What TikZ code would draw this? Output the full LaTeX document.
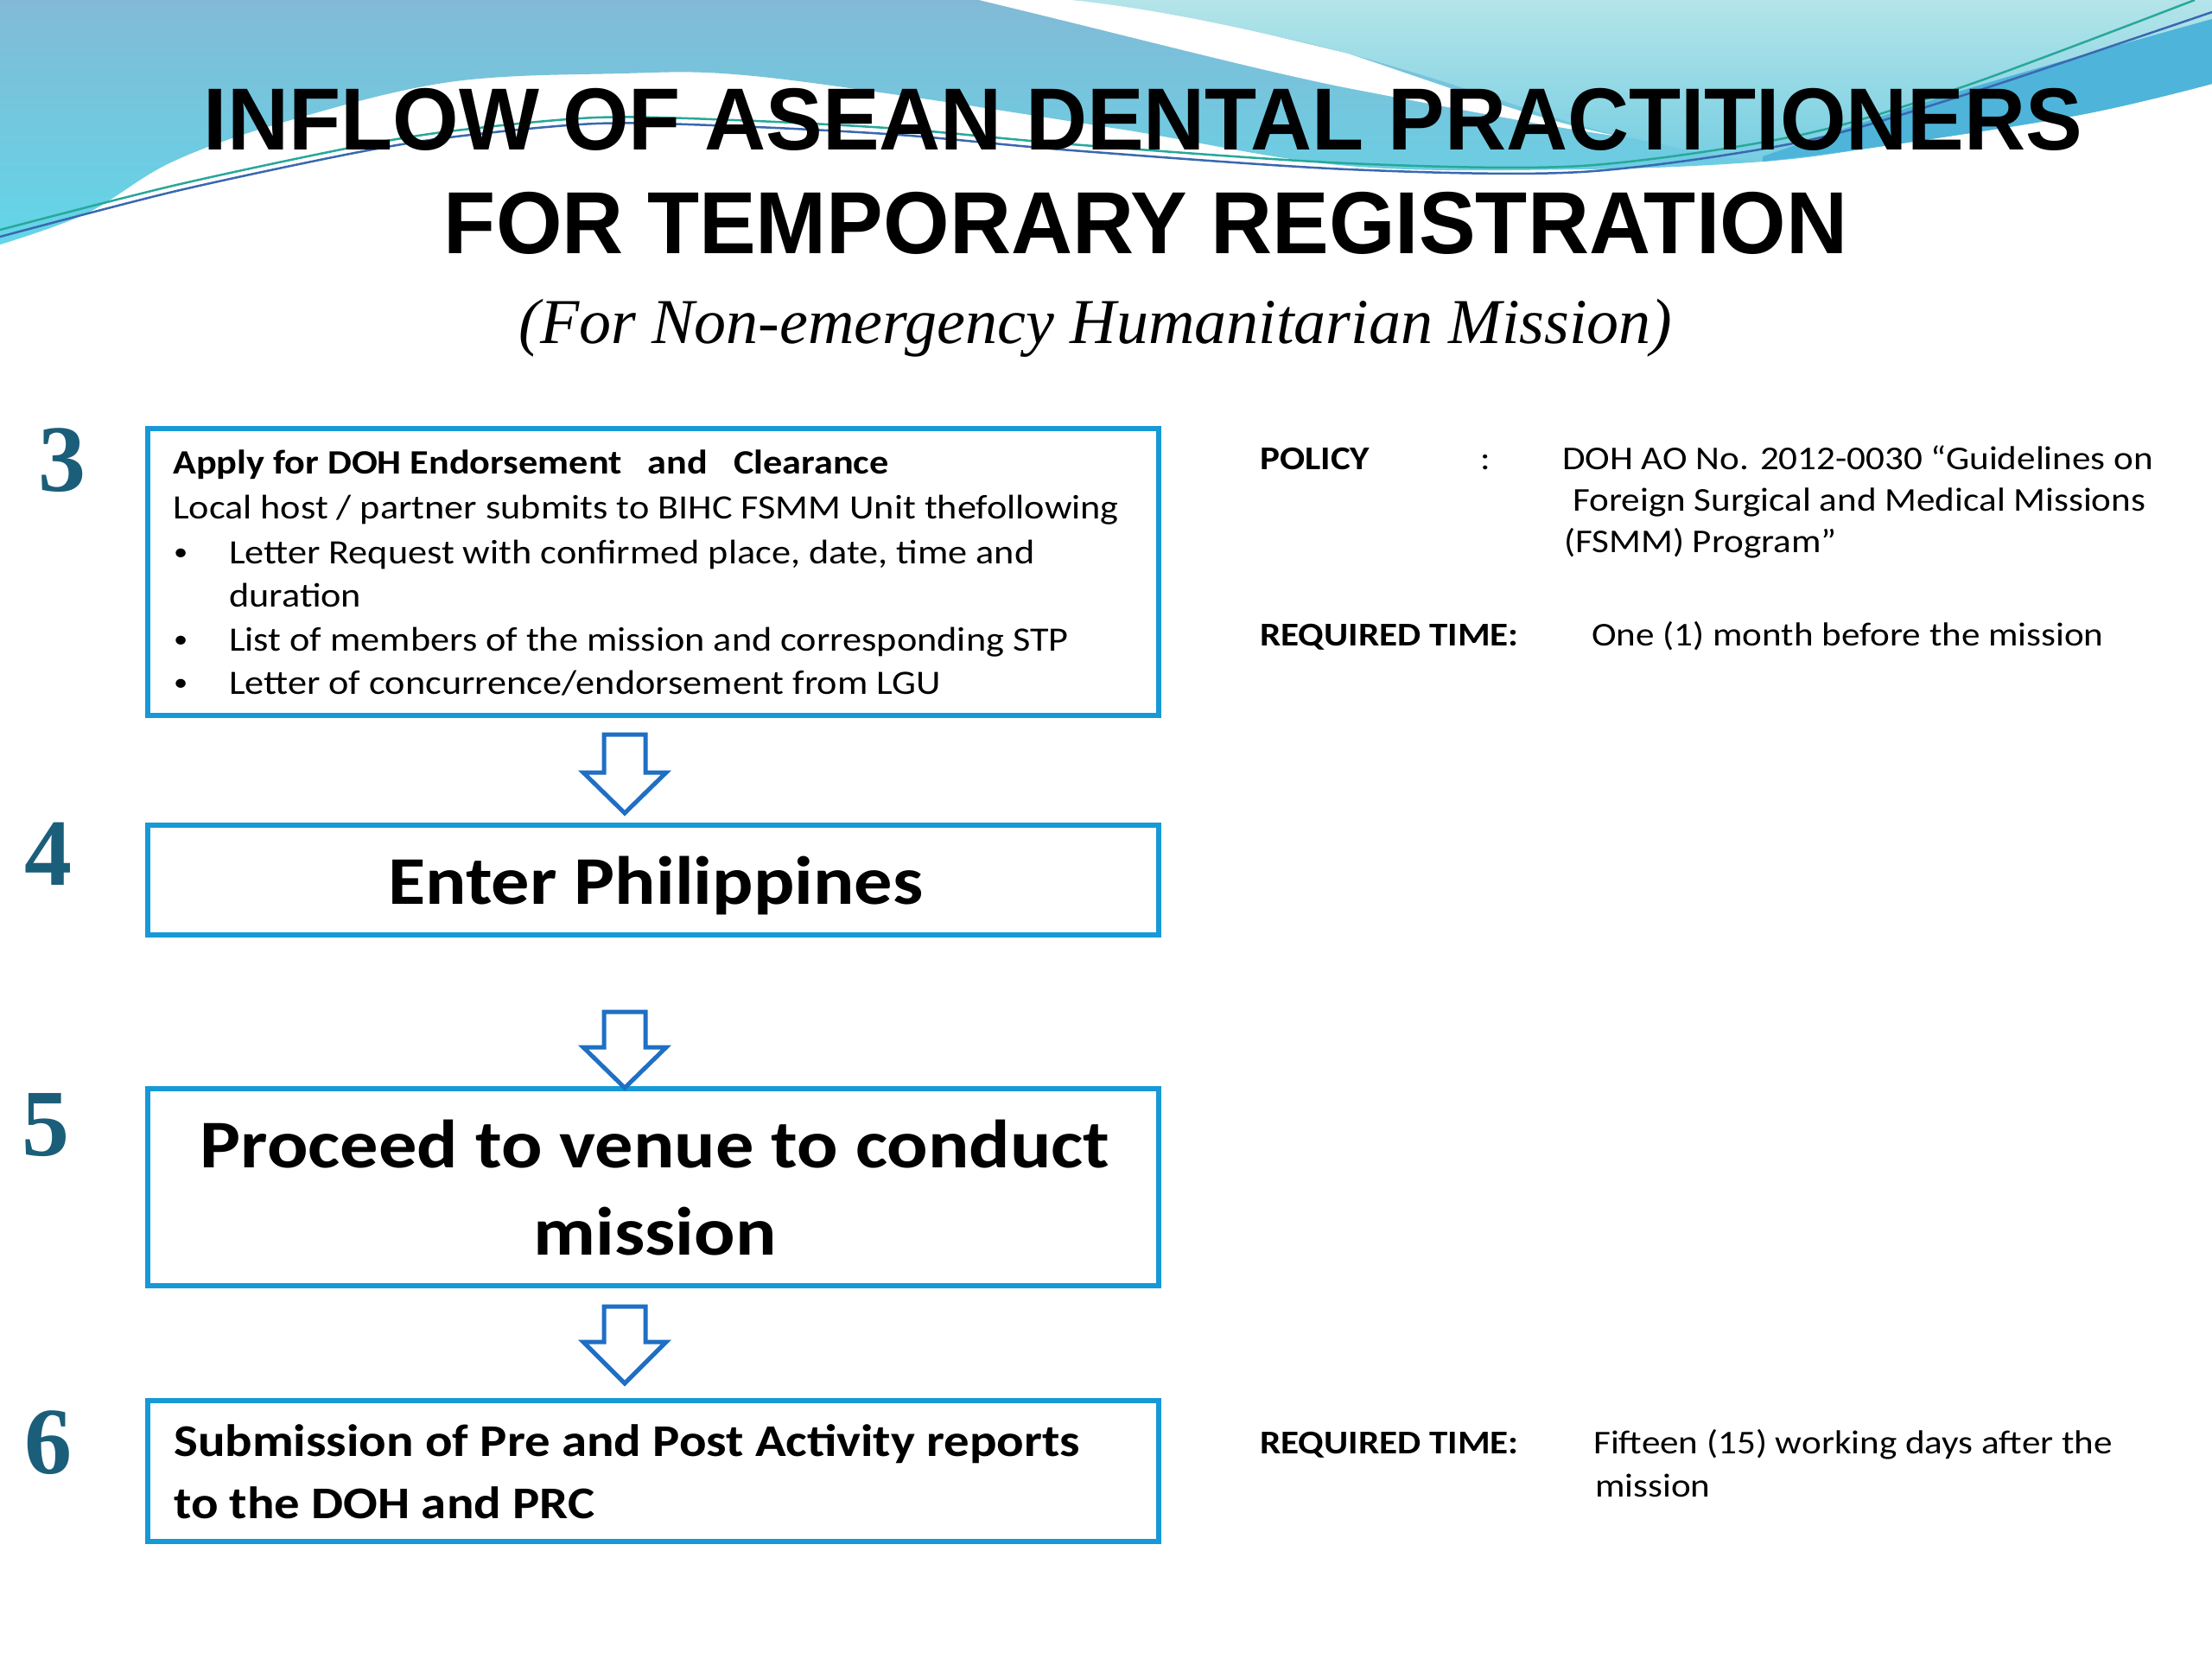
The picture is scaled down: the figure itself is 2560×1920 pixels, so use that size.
\documentclass[tikz,border=0pt]{standalone}
\usepackage{fontspec}
\setmainfont{Carlito}
\newfontfamily\cand{Carlito}[FakeStretch=1.12]
\newfontfamily\titlefont{Liberation Sans}[FakeStretch=0.965]
\newfontfamily\subfont{Liberation Serif}
\newfontfamily\numfont{Liberation Serif}
\definecolor{boxblue}{RGB}{22,153,214}
\definecolor{arrblue}{RGB}{31,111,196}
\definecolor{numcol}{RGB}{27,94,122}
\definecolor{bgtop}{RGB}{130,186,214}
\definecolor{bgcyan}{RGB}{98,214,232}
\definecolor{aquatop}{RGB}{180,228,233}
\definecolor{aquabot}{RGB}{118,206,226}
\definecolor{bandblue}{RGB}{78,180,218}
\definecolor{lineteal}{RGB}{40,168,154}
\definecolor{lineblue}{RGB}{58,104,176}
\newcommand\blockdown[4]{%
  \draw[barrow] (#1-24,#2) -- (#1+24,#2) -- (#1+24,#3) -- (#1+48,#3) -- (#1,#4) -- (#1-48,#3) -- (#1-24,#3) -- cycle;}
\begin{document}
\begin{tikzpicture}[x=1pt,y=-1pt,
  stepbox/.style={draw=boxblue, line width=6.5pt, fill=white, rectangle, inner sep=0pt},
  barrow/.style={draw=arrblue, line width=5pt, fill=white, line join=miter},
  numlab/.style={font=\numfont\bfseries\fontsize{110}{110}\selectfont, text=numcol, inner sep=0pt, anchor=center},
  body/.style={font=\cand\fontsize{39.5}{51}\selectfont, anchor=base west, inner sep=0pt},
  bul/.style={font=\cand\fontsize{29}{51}\selectfont, anchor=base west, inner sep=0pt},
  bodyb/.style={font=\cand\bfseries\fontsize{39.5}{51}\selectfont, anchor=base west, inner sep=0pt},
  side/.style={font=\cand\fontsize{38.5}{48}\selectfont, anchor=base west, inner sep=0pt},
  sideb/.style={font=\cand\bfseries\fontsize{38.5}{48}\selectfont, anchor=base west, inner sep=0pt},
  bigb/.style={font=\cand\bfseries\fontsize{79}{100}\selectfont, anchor=base, inner sep=0pt},
  midb/.style={font=\cand\bfseries\fontsize{52.5}{72}\selectfont, anchor=base west, inner sep=0pt},
  titl/.style={font=\titlefont\bfseries\fontsize{102}{120}\selectfont, anchor=base, inner sep=0pt},
  subt/.style={font=\subfont\itshape\fontsize{74}{90}\selectfont, anchor=base, inner sep=0pt},
  wline/.style={line width=2.5pt}
]
\useasboundingbox (0,0) rectangle (2560,1920);
\fill[white] (0,0) rectangle (2560,1920);
% background waves
\shade[top color=bgtop, bottom color=bgcyan] (0,0) -- (2560,0) -- plot[smooth, tension=0.6] coordinates {(2560,97) (2407,133) (2173,170) (2040,187) (1830,196) (1560,192) (1300,150) (1040,110) (850,86) (720,85) (520,95) (333,140) (200,187) (100,247) (0,283)} -- cycle;
\shade[top color=aquatop, bottom color=aquabot] (1240,0) .. controls (1400,25) and (1500,45) .. (1560,62) .. controls (1700,100) and (1800,140) .. (1870,156) .. controls (1950,172) and (2000,185) .. (2040,187) -- plot[smooth, tension=0.6] coordinates {(2040,187) (2173,170) (2407,133) (2560,97)} -- (2560,0) -- cycle;
\fill[white] (1133,0) .. controls (1300,40) and (1450,80) .. (1560,102) .. controls (1680,125) and (1800,148) .. (1875,158) .. controls (1780,140) and (1660,95) .. (1560,62) .. controls (1450,35) and (1350,12) .. (1240,0) -- cycle;
\fill[bandblue] plot[smooth, tension=0.6] coordinates {(2040,181) (2273,104) (2560,22)} -- (2560,97) -- plot[smooth, tension=0.6] coordinates {(2560,97) (2407,133) (2173,170) (2040,187)} -- cycle;
\draw[wline, lineteal] plot[smooth, tension=0.5] coordinates {(0,266) (200,215) (400,172) (520,152) (690,136) (850,139) (1040,149) (1240,167) (1560,189) (1830,192) (2080,157) (2273,100) (2540,0)};
\draw[wline, lineblue] plot[smooth, tension=0.5] coordinates {(0,274) (200,222) (400,179) (520,159) (690,143) (850,146) (1040,156) (1240,174) (1560,196) (1830,199) (2080,165) (2273,110) (2560,14)};
% title
\node[titl] (t1) at (1323,173) {INFLOW OF ASEAN DENTAL PRACTITIONERS};
\node[titl] (t2) at (1326,293) {FOR TEMPORARY REGISTRATION};
\node[subt] (t3) at (1268,397) {(For Non-emergency Humanitarian Mission)};
% boxes
\node[stepbox, minimum width=1170pt, minimum height=332pt] (b3) at (756,662) {};
\node[stepbox, minimum width=1170pt, minimum height=127pt] (b4) at (756,1018.5) {};
\node[stepbox, minimum width=1170pt, minimum height=228pt] (b5) at (756,1374) {};
\node[stepbox, minimum width=1170pt, minimum height=163pt] (b6) at (756,1702.5) {};
% arrows between boxes
\blockdown{723}{850}{894}{941}
\blockdown{723}{1171}{1212}{1259}
\blockdown{723}{1512}{1553}{1601}
% step numbers
\node[numlab] (n3) at (72,533) {3};
\node[numlab] (n4) at (56,988) {4};
\node[numlab] (n5) at (53,1302) {5};
\node[numlab] (n6) at (56,1670) {6};
% box 3 text
\node[bodyb] (h3) at (200,548) {Apply for DOH Endorsement\ \ \ and\ \ \ Clearance};
\node[body] (l1) at (200,600) {Local host / partner submits to BIHC FSMM Unit thefollowing};
\node[bul] (u1) at (201,648) {•};
\node[body] (l2) at (265,652) {Letter Request with confirmed place, date, time and};
\node[body] (l3) at (265,702) {duration};
\node[bul] (u2) at (201,749) {•};
\node[body] (l4) at (265,753) {List of members of the mission and corresponding STP};
\node[bul] (u3) at (201,799) {•};
\node[body] (l5) at (265,803) {Letter of concurrence/endorsement from LGU};
% box 4, 5, 6 text
\node[bigb] (e4) at (759,1046) {Enter Philippines};
\node[bigb] (e5a) at (758,1351) {Proceed to venue to conduct};
\node[bigb] (e5b) at (758,1452) {mission};
\node[midb] (e6a) at (201,1685) {Submission of Pre and Post Activity reports};
\node[midb] (e6b) at (201,1757) {to the DOH and PRC};
% right side text
\node[sideb] (p1) at (1458,543) {POLICY};
\node[side] (p2) at (1713,543) {:};
\node[side] (p3) at (1808,543) {DOH AO No. 2012-0030 “Guidelines on};
\node[side] (p4) at (1820,591) {Foreign Surgical and Medical Missions};
\node[side] (p5) at (1810,639) {(FSMM) Program”};
\node[sideb] (r1) at (1458,747) {REQUIRED TIME:};
\node[side] (r2) at (1842,747) {One (1) month before the mission};
\node[sideb] (r3) at (1458,1682) {REQUIRED TIME:};
\node[side] (r4) at (1844,1682) {Fifteen (15) working days after the};
\node[side] (r5) at (1846,1732) {mission};
\end{tikzpicture}
\end{document}
